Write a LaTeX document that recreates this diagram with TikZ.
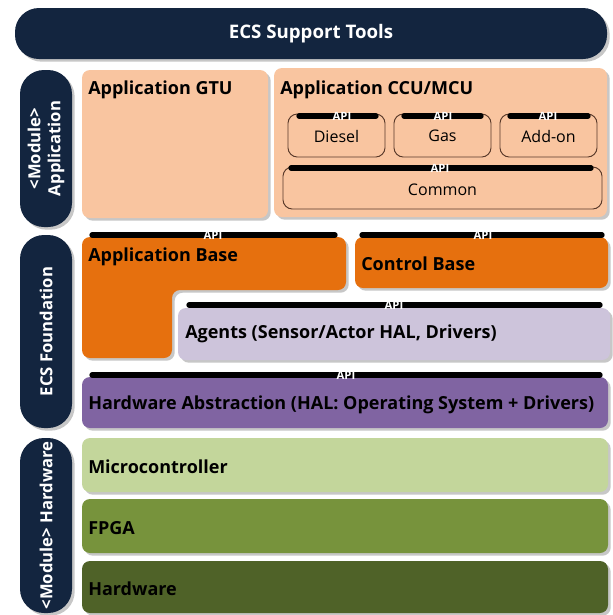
\documentclass[tikz,border=0pt]{standalone}
\usepackage{fontspec}
\setmainfont{Open Sans}
\usetikzlibrary{fit,shadows}
\definecolor{navy}{HTML}{13253F}
\definecolor{peach}{HTML}{F9C5A0}
\definecolor{orng}{HTML}{E6700E}
\definecolor{lav}{HTML}{CDC4DB}
\definecolor{purp}{HTML}{8064A2}
\definecolor{lgreen}{HTML}{C3D69B}
\definecolor{mgreen}{HTML}{77933C}
\definecolor{dgreen}{HTML}{4F6228}
\definecolor{brdr}{HTML}{5A3A2A}
\tikzset{
  shad/.style={drop shadow={shadow xshift=2pt,shadow yshift=-2pt,fill=black!40,opacity=0.55}},
  layer/.style={rounded corners=6pt,inner sep=0pt,shad},
  pill/.style={rounded corners=18pt,inner sep=0pt,fill=navy,shad},
  inbox/.style={rounded corners=7pt,inner sep=0pt,draw=brdr,line width=0.7pt},
  apibar/.style={line width=4pt,line cap=round,black},
  apitext/.style={text=white,font=\bfseries\fontsize{8.5}{8.5}\selectfont,inner sep=0pt},
  ltitle/.style={anchor=west,yshift=-1.2pt,font=\bfseries\fontsize{13.5}{15}\selectfont,inner sep=0pt},
  ptext/.style={text=white,font=\bfseries\fontsize{12.5}{15}\selectfont,rotate=90,align=center,inner sep=0pt},
  intext/.style={font=\fontsize{12}{14}\selectfont,inner sep=0pt},
}
\begin{document}
\begin{tikzpicture}[x=0.75pt,y=-0.75pt]
\useasboundingbox[fill=white] (0,0) rectangle (612,615);
% top bar
\node[pill,fit={(15,8)(607,59)}] (top) {};
\node[text=white,font=\bfseries\fontsize{14}{16}\selectfont] (toptxt) at (top.center) {ECS Support Tools};
% side pills
\node[pill,fit={(20,70)(72,227)}] (p1) {};
\node[ptext] (p1t) at (p1.center) {<Module>\\Application};
\node[pill,fit={(20,235)(72,428)}] (p2) {};
\node[ptext] (p2t) at (p2.center) {ECS Foundation};
\node[pill,fit={(20,438)(72,613)}] (p3) {};
\node[ptext] (p3t) at (p3.center) {<Module> Hardware};
% application layer
\node[layer,fill=peach,fit={(82,70)(268,218)}] (gtu) {};
\node[ltitle] (gtut) at (88,88) {Application GTU};
\node[layer,fill=peach,fit={(274,68)(607,217)}] (ccu) {};
\node[ltitle] (ccut) at (280,88) {Application CCU/MCU};
\node[inbox,fit={(288,114)(385,157)}] (diesel) {};
\node[intext] (dieselt) at ([yshift=-0.5pt]diesel.center) {Diesel};
\node[inbox,fit={(394,114)(491,157)}] (gas) {};
\node[intext] (gast) at ([yshift=-0.5pt]gas.center) {Gas};
\node[inbox,fit={(500,114)(597,157)}] (addon) {};
\node[intext] (addont) at ([yshift=-0.5pt]addon.center) {Add-on};
\node[inbox,fit={(283,167)(602,209)}] (common) {};
\node[intext] (commont) at ([yshift=-1pt]common.center) {Common};
\coordinate (d1) at (299,116); \coordinate (d2) at (376,116);
\coordinate (g1) at (404,116); \coordinate (g2) at (481,116);
\coordinate (a1) at (510,116); \coordinate (a2) at (588,116);
\coordinate (c1) at (291,168); \coordinate (c2) at (591,168);
\draw[apibar] (d1) -- (d2); \node[apitext] (dapi) at (342,116) {API};
\draw[apibar] (g1) -- (g2); \node[apitext] (gapi) at (443,116) {API};
\draw[apibar] (a1) -- (a2); \node[apitext] (aapi) at (548,116) {API};
\draw[apibar] (c1) -- (c2); \node[apitext] (capi) at (440,168) {API};
% foundation
\path[fill=orng,rounded corners=6pt,shad] (82,237) -- (346,237) -- (346,290) -- (172,290) -- (172,358) -- (82,358) -- cycle;
\node[ltitle] (abt) at (88,255) {Application Base};
\node[layer,fill=orng,fit={(355,237)(608,288)}] (cb) {};
\node[ltitle] (cbt) at (361,262) {Control Base};
\node[layer,fill=lav,fit={(178,308)(610,360)}] (ag) {};
\node[ltitle] (agt) at (185,332) {Agents (Sensor/Actor HAL, Drivers)};
\node[layer,fill=purp,fit={(82,377)(608,428)}] (hal) {};
\node[ltitle] (halt) at (88,403) {Hardware Abstraction (HAL: Operating System + Drivers)};
\coordinate (ab1) at (92,235); \coordinate (ab2) at (335,235);
\coordinate (cb1) at (362,235); \coordinate (cb2) at (602,235);
\coordinate (ag1) at (189,305); \coordinate (ag2) at (600,305);
\coordinate (h1) at (92,375); \coordinate (h2) at (600,375);
\draw[apibar] (ab1) -- (ab2); \node[apitext] (abapi) at (213,235) {API};
\draw[apibar] (cb1) -- (cb2); \node[apitext] (cbapi) at (483,235) {API};
\draw[apibar] (ag1) -- (ag2); \node[apitext] (agapi) at (394,305) {API};
\draw[apibar] (h1) -- (h2); \node[apitext] (hapi) at (346,375) {API};
% hardware
\node[layer,fill=lgreen,fit={(82,438)(608,492)}] (mc) {};
\node[ltitle] (mct) at (88,465) {Microcontroller};
\node[layer,fill=mgreen,fit={(82,499)(608,553)}] (fpga) {};
\node[ltitle] (fpgat) at (88,526) {FPGA};
\node[layer,fill=dgreen,fit={(82,561)(608,613)}] (hw) {};
\node[ltitle] (hwt) at (88,587) {Hardware};
\end{tikzpicture}
\end{document}
